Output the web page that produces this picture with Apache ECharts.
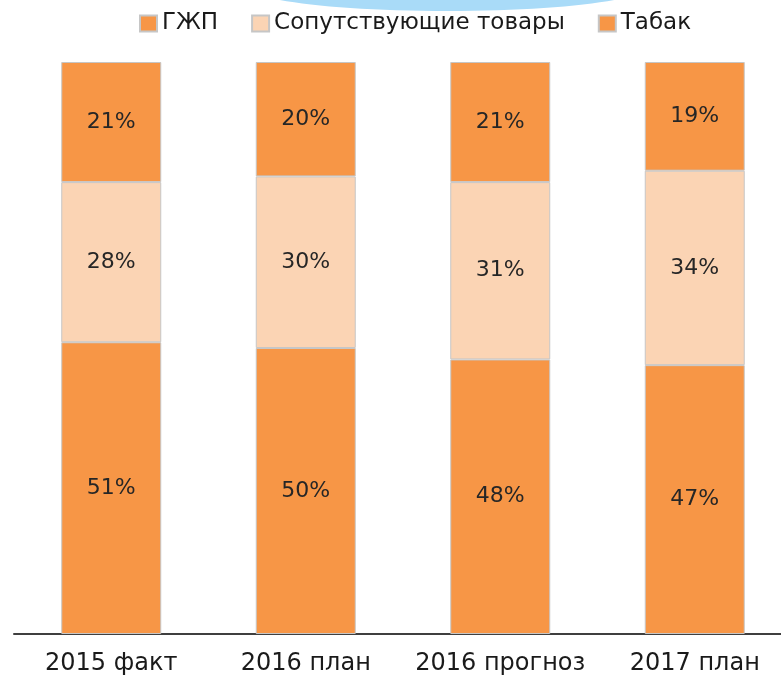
<!DOCTYPE html>
<html>
<head>
<meta charset="utf-8">
<script src="https://cdn.jsdelivr.net/npm/echarts@6/dist/echarts.min.js"></script>
<style>
  html, body { margin: 0; padding: 0; background: #fff; overflow: hidden; }
  /* the axis runs off the right edge, so the canvas is a bit wider than the window */
  #chart { width: 800px; height: 678px; }
</style>
</head>
<body>
<div id="chart"></div>
<script>
// Data
const categories = ['2015 факт', '2016 план', '2016 прогноз', '2017 план'];
const gzhp = [51, 50, 48, 47];
const accompanying = [28, 30, 31, 34];
const tobacco = [21, 20, 21, 19];

const ORANGE = '#f79646';
const PEACH = '#fbd4b4';
const FONT = 'DejaVu Sans';

const chart = echarts.init(document.getElementById('chart'));

// Shared style for each stacked segment
const makeSeries = (name, data, color) => ({
    name: name,
    type: 'bar',
    stack: 'total',
    barWidth: 100,
    data: data,
    itemStyle: { color: color, borderColor: '#c6c6c6', borderWidth: 1 },
    label: {
        show: true,
        position: 'inside',
        formatter: '{c}%',
        color: '#262626',
        fontFamily: FONT,
        fontSize: 22,
    },
});

const option = {
    animation: false,
    backgroundColor: '#fff',
    graphic: [{
        // light blue arc peeking in at the top edge
        type: 'ellipse',
        shape: { cx: 447, cy: -13, rx: 199, ry: 24 },
        style: { fill: '#a9dbf8' },
        z: -1,
    }],
    legend: {
        left: 134,
        top: 7,
        itemWidth: 17,
        itemHeight: 16,
        itemGap: 33,
        icon: 'rect',
        textStyle: { fontFamily: FONT, fontSize: 23, color: '#1a1a1a' },
        data: ['ГЖП', 'Сопутствующие товары', 'Табак'],
    },
    grid: { left: 14, right: 8, top: 62, bottom: 44 },
    xAxis: {
        type: 'category',
        data: categories,
        axisLine: { lineStyle: { color: '#3f3f3f', width: 2 } },
        axisTick: { show: false },
        axisLabel: { interval: 0, color: '#1a1a1a', fontFamily: FONT, fontSize: 24, margin: 18 },
    },
    yAxis: {
        type: 'value',
        min: 0,
        max: 100,
        show: false,
    },
    series: [
        makeSeries('ГЖП', gzhp, ORANGE),
        makeSeries('Сопутствующие товары', accompanying, PEACH),
        makeSeries('Табак', tobacco, ORANGE),
    ],
};

chart.setOption(option);
</script>
</body>
</html>
